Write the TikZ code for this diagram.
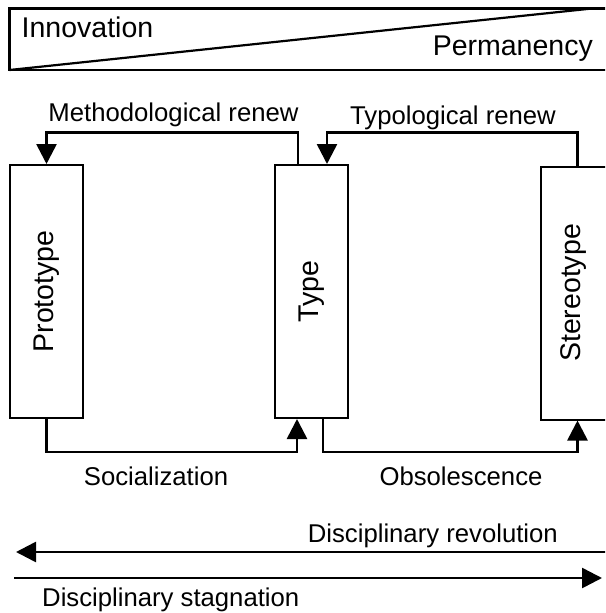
\documentclass[tikz,border=0pt]{standalone}
\usepackage{fontspec}
\setmainfont{Liberation Sans}
\usetikzlibrary{arrows.meta}

\tikzset{
  stage/.style={draw=black, line width=2pt, minimum width=73pt, minimum height=253pt, inner sep=0pt},
  stagetext/.style={rotate=90, font=\fontsize{28.5}{34}\selectfont},
  flow/.style={line width=2.6pt, -{Triangle[width=20pt,length=20pt]}},
  flowtext/.style={font=\fontsize{25.7}{30}\selectfont, inner sep=0pt},
  scaletext/.style={font=\fontsize{28.5}{34}\selectfont, inner sep=0pt},
}

\begin{document}
\begin{tikzpicture}[x=1pt, y=-1pt]
	\useasboundingbox (0,0) rectangle (605,613);
	\clip (0,0) rectangle (605,613);

	% scale from innovation to permanency
	\draw[line width=2.2pt] (9.5,8.5) rectangle (620,70);
	\draw[line width=2.2pt] (9.5,70) -- (592,8.5);
	\node[scaletext, anchor=base west] (inno) at (21.5,37.3) {Innovation};
	\node[scaletext, anchor=base east] (perm) at (593,55) {Permanency};

	\node[stage, label={[stagetext]center:Prototype}] (proto) at (46.5,291.5) {};
	\node[stage, label={[stagetext]center:Type}] (type) at (311.5,291.5) {};
	\node[stage, label={[xshift=-4pt, stagetext]center:Stereotype}] (stereo) at (577.5,293) {};

	\coordinate (top) at (0,132.7);
	\coordinate (low) at (0,452);

	\draw[flow] ([xshift=-13.5pt]type.north) coordinate (m1) -- (m1 |- top) -| (proto.north);
	\draw[flow] (stereo.north) -- (stereo.north |- top) -| ([xshift=15.5pt]type.north);
	\draw[flow] (proto.south) -- (proto.south |- low) -| ([xshift=-14.5pt]type.south);
	\draw[flow] ([xshift=11.5pt]type.south) coordinate (o1) -- (o1 |- low) -| (stereo.south);

	\node[flowtext, anchor=base] (method) at (173.5,121.7) {Methodological renew};
	\node[flowtext, anchor=base] (typo) at (453,124.5) {Typological renew};
	\node[flowtext, anchor=base] (social) at (156,485) {Socialization};
	\node[flowtext, anchor=base] (obso) at (461,485) {Obsolescence};

	% discipline arrows
	\coordinate (revstart) at (610,552);
	\coordinate (revend) at (16,552);
	\coordinate (stgstart) at (14,578);
	\coordinate (stgend) at (602,578);
	\draw[flow] (revstart) -- (revend);
	\draw[flow] (stgstart) -- (stgend);
	\node[flowtext, anchor=base east] (revol) at (558,542) {Disciplinary revolution};
	\node[flowtext, anchor=base west] (stagn) at (42,606) {Disciplinary stagnation};

\end{tikzpicture}
\end{document}
